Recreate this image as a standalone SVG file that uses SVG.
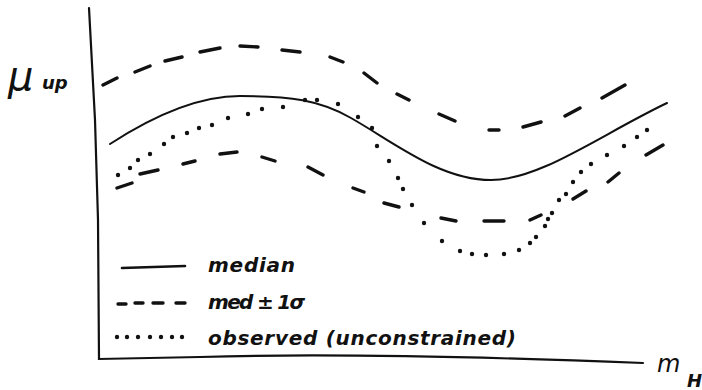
<svg xmlns="http://www.w3.org/2000/svg" width="702" height="390" viewBox="0 0 702 390">
<style>
.ax{fill:none;stroke:#111;stroke-width:2.2;stroke-linecap:round}
.sol{fill:none;stroke:#111;stroke-width:2;stroke-linecap:round}
.ds{fill:none;stroke:#111;stroke-width:3.4;stroke-linecap:round}
.dt{fill:#111}
.hw{font-family:"DejaVu Sans",sans-serif;font-style:oblique;font-weight:bold;fill:#111}
.thin{font-weight:normal}
</style>
<rect width="702" height="390" fill="#fff"/>
<g id="axes">
<path class="ax" d="M89,8 L95,120 L98,220 L99,359 L200,357 Q360,352 643,363"/>
</g>
<g id="median">
<path class="sol" d="M110,144 C150,118 195,96 240,96 C290,96 320,100 351,118 C395,143 440,180 491,180 C540,180 600,135 667,103"/>
</g>
<g id="upper-band">
<path class="ds" d="M103,85 L117,78 M135,72 L150,66 M165,61 L182,57 M200,52 L220,48 M240,46 L258,47 M282,50 L300,52 M330,57 L343,62 M364,73 L377,83 M397,94 L409,100 M439,114 L455,121 M489,130 L499,130 M523,127 L541,122 M565,116 L580,108 M602,98 L625,85"/>
</g>
<g id="lower-band">
<path class="ds" d="M117,188 L132,183 M140,174 L158,170 M183,164 L195,161 M220,154 L237,152 M262,157 L275,161 M308,167 L323,175 M353,188 L364,192 M384,203 L399,207 M441,218 L456,221 M484,221 L504,221 M530,220 L541,215 M573,199 L586,191 M608,182 L619,173 M646,155 L663,145"/>
</g>
<g id="observed">
<circle class="dt" cx="118" cy="175" r="2.2"/><circle class="dt" cx="130" cy="168" r="2.2"/><circle class="dt" cx="138" cy="160" r="2.2"/><circle class="dt" cx="150" cy="154" r="2.2"/><circle class="dt" cx="164" cy="144" r="2.2"/><circle class="dt" cx="173" cy="137" r="2.2"/><circle class="dt" cx="187" cy="133" r="2.2"/><circle class="dt" cx="199" cy="128" r="2.2"/><circle class="dt" cx="212" cy="125" r="2.2"/><circle class="dt" cx="228" cy="118" r="2.2"/><circle class="dt" cx="248" cy="114" r="2.2"/><circle class="dt" cx="262" cy="109" r="2.2"/><circle class="dt" cx="283" cy="107" r="2.2"/><circle class="dt" cx="305" cy="100" r="2.2"/><circle class="dt" cx="317" cy="100" r="2.2"/><circle class="dt" cx="338" cy="104" r="2.2"/><circle class="dt" cx="358" cy="117" r="2.2"/><circle class="dt" cx="372" cy="128" r="2.2"/><circle class="dt" cx="377" cy="146" r="2.2"/><circle class="dt" cx="389" cy="161" r="2.2"/><circle class="dt" cx="398" cy="178" r="2.2"/><circle class="dt" cx="403" cy="189" r="2.2"/><circle class="dt" cx="412" cy="205" r="2.2"/><circle class="dt" cx="424" cy="223" r="2.2"/><circle class="dt" cx="442" cy="241" r="2.2"/><circle class="dt" cx="460" cy="251" r="2.2"/><circle class="dt" cx="472" cy="254" r="2.2"/><circle class="dt" cx="486" cy="255" r="2.2"/><circle class="dt" cx="504" cy="254" r="2.2"/><circle class="dt" cx="519" cy="250" r="2.2"/><circle class="dt" cx="530" cy="243" r="2.2"/><circle class="dt" cx="536" cy="237" r="2.2"/><circle class="dt" cx="545" cy="226" r="2.2"/><circle class="dt" cx="548" cy="219" r="2.2"/><circle class="dt" cx="552" cy="213" r="2.2"/><circle class="dt" cx="559" cy="200" r="2.2"/><circle class="dt" cx="566" cy="194" r="2.2"/><circle class="dt" cx="573" cy="182" r="2.2"/><circle class="dt" cx="581" cy="172" r="2.2"/><circle class="dt" cx="591" cy="164" r="2.2"/><circle class="dt" cx="607" cy="155" r="2.2"/><circle class="dt" cx="624" cy="146" r="2.2"/><circle class="dt" cx="637" cy="137" r="2.2"/><circle class="dt" cx="647" cy="130" r="2.2"/>
</g>
<g id="legend">
<path class="sol" d="M122,268 L185,266" style="stroke-width:2.6"/>
<path class="ds" d="M118,304 L126,304 M135,303 L143,303 M153,303 L163,303 M176,303 L185,303"/>
<circle class="dt" cx="117" cy="337" r="2.2"/><circle class="dt" cx="127" cy="337" r="2.2"/><circle class="dt" cx="138" cy="337" r="2.2"/><circle class="dt" cx="150" cy="337" r="2.2"/><circle class="dt" cx="161" cy="337" r="2.2"/><circle class="dt" cx="172" cy="337" r="2.2"/><circle class="dt" cx="182" cy="337" r="2.2"/>
<text class="hw" x="208" y="272" font-size="20" textLength="87" lengthAdjust="spacing">median</text>
<text class="hw" x="208" y="309" font-size="20" textLength="97" lengthAdjust="spacing">med ± 1σ</text>
<text class="hw" x="208" y="345" font-size="20" textLength="308" lengthAdjust="spacing">observed (unconstrained)</text>
</g>
<g id="labels">
<text class="hw thin" x="8" y="90" font-size="40">μ</text>
<text class="hw" x="42" y="89" font-size="18">up</text>
<text class="hw thin" x="657" y="372" font-size="24">m</text>
<text class="hw" x="687" y="387" font-size="18">H</text>
</g>
</svg>
